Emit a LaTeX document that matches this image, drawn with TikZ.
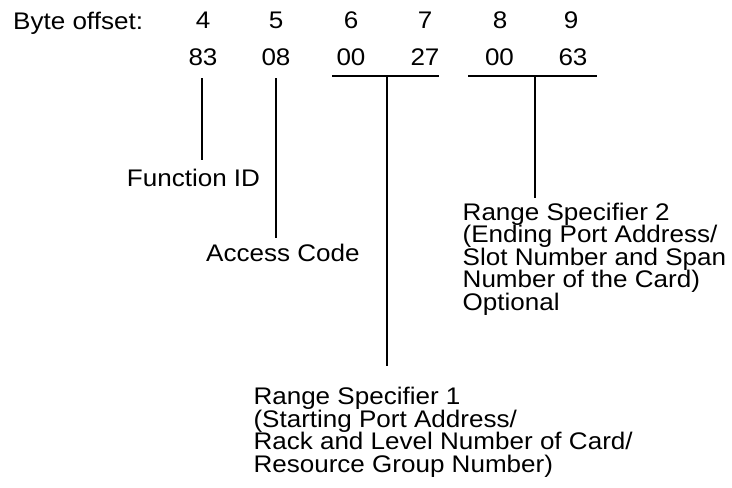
\documentclass[tikz,border=0pt]{standalone}
\usepackage{fontspec}
\setmainfont{Liberation Sans}[FakeStretch=1.085]

\begin{document}
\begin{tikzpicture}[x=1pt,y=-1pt,
  lbl/.style={inner sep=0pt, font=\fontsize{24pt}{22.5pt}\selectfont},
  num/.style={lbl, anchor=base},
  multi/.style={lbl, align=left, anchor=north west},
  bar/.style={line width=2pt}]
\useasboundingbox (0,0) rectangle (732,488);

% header row: byte offsets
\node[lbl, anchor=base west] (bo) at (13,29) {Byte offset:};
\node[num] (o4) at (203,28.5) {4};
\node[num] (o5) at (276,28.5) {5};
\node[num] (o6) at (351,28.5) {6};
\node[num] (o7) at (425,28.5) {7};
\node[num] (o8) at (500,28.5) {8};
\node[num] (o9) at (571,28.5) {9};

% byte values
\node[num] (v4) at (203,65) {83};
\node[num] (v5) at (276,65) {08};
\node[num] (v6) at (351,65) {00};
\node[num] (v7) at (425,65) {27};
\node[num] (v8) at (499.5,65) {00};
\node[num] (v9) at (573,65) {63};

% field labels
\node[lbl, anchor=base west] (fid) at (126.7,186.7) {Function ID};
\node[lbl, anchor=base west] (acc) at (206,261.7) {Access Code};
\node[multi] (rs2) at (462.5,202.8) {Range Specifier 2\\(Ending Port Address/\\Slot Number and Span\\Number of the Card)\\Optional};
\node[multi] (rs1) at (253.3,387) {Range Specifier 1\\(Starting Port Address/\\Rack and Level Number of Card/\\Resource Group Number)};

% tick points under single bytes
\coordinate (t4) at (201.5,78);
\coordinate (t5) at (276,78);

% brackets spanning two-byte fields
\coordinate (b1l) at (332,76);
\coordinate (b1r) at (438.5,76);
\coordinate (b1m) at (387,76);
\coordinate (b2l) at (468,76);
\coordinate (b2r) at (597,76);
\coordinate (b2m) at (535,76);

\draw[bar] (b1l) -- (b1r);
\draw[bar] (b2l) -- (b2r);

% leader lines to the labels
\draw[bar, shorten >=9.5pt] (t4) -- (t4 |- fid.north);
\draw[bar, shorten >=6.5pt] (t5) -- (t5 |- acc.north);
\draw[bar, shorten >=21pt] (b1m) -- (b1m |- rs1.north);
\draw[bar, shorten >=4.8pt] (b2m) -- (b2m |- rs2.north);
\end{tikzpicture}
\end{document}
